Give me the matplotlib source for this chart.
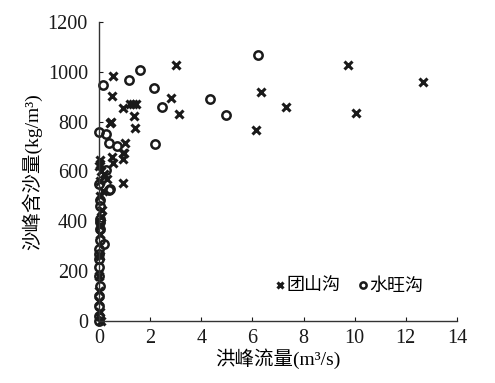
import matplotlib
matplotlib.use('Agg')
import matplotlib.pyplot as plt

plt.rcParams['font.family'] = ['Liberation Serif', 'Noto Sans CJK SC']
plt.rcParams['axes.unicode_minus'] = False

# 团山沟 (crosses)
tsg_x = [0.53, 3.0, 0.52, 0.93, 1.34, 1.45, 2.8, 3.14, 1.37, 1.41, 0.48, 1.0, 0.93,
         0.95, 0.53, 0.5, 6.35, 6.16, 9.74, 7.33, 10.06, 12.67, 0.95, 1.2, 0.43, 0.98,
         0.02, 0.05, 0.0, 0.08, 0.1, 0.08, 0.03, 0.05, 0.02, 0.0, 0.04, 0.06, 0.01,
         0.03, 0.0, 0.02, 0.2, 0.3, 0.15]
tsg_y = [984, 1025, 904, 853, 871, 871, 894, 829, 824, 776, 800, 712, 672,
         648, 634, 659, 920, 766, 1025, 860, 836, 958, 554, 870, 795, 672,
         645, 630, 620, 600, 444, 417, 560, 500, 380, 121, 34, 0, 80,
         260, 180, 350, 590, 570, 520]

# 水旺沟 (circles)
swg_x = [0.14, 1.17, 1.59, 2.15, 2.45, 4.36, 4.95, 6.21, 2.19, 0.43,
         0.0, 0.26, 0.39, 0.69, 0.26, 0.0, 0.39, 0.04, 0.02, 0.03, 0.05, 0.2,
         0.0, 0.0, 0.0, 0.0, 0.02, 0.0, 0.0, 0.0, 0.0, 0.02, 0.04, 0.0]
swg_y = [948, 965, 1005, 933, 857, 889, 825, 1066, 710, 531,
         760, 750, 712, 700, 605, 551, 524, 484, 411, 370, 323, 310,
         289, 249, 215, 181, 141, 101, 60, 20, 0, 460, 395, 270]

xticks = [0, 2, 4, 6, 8, 10, 12, 14]
yticks = [0, 200, 400, 600, 800, 1000, 1200]

fig = plt.figure(figsize=(4.95, 3.83), dpi=100)
ax = fig.add_axes([0.2, 0.162, 0.723, 0.781])

ax.plot(tsg_x, tsg_y, 'x', color='#1a1a1a', ms=5.5, mew=2.2, ls='none',
        clip_on=False, label='团山沟')
ax.plot(swg_x, swg_y, 'o', mfc='none', mec='#1a1a1a', ms=6, mew=1.8, ls='none',
        clip_on=False, label='水旺沟')

ax.set_xlim(0, 14)
ax.set_ylim(0, 1200)
ax.set_xticks(xticks)
ax.set_yticks(yticks)
for s in ['top', 'right']:
    ax.spines[s].set_visible(False)
for s in ['left', 'bottom']:
    ax.spines[s].set_color('#333333')
    ax.spines[s].set_linewidth(1.0)
ax.tick_params(direction='in', length=3, labelsize=14.5, colors='#1a1a1a')
ax.tick_params(axis='y', pad=8)
ax.tick_params(axis='x', pad=6)

ax.set_xlabel('洪峰流量(m³/s)', fontsize=14, labelpad=0)
ax.set_ylabel('沙峰含沙量(kg/m³)', fontsize=14, labelpad=4)

ax.legend(loc='center', bbox_to_anchor=(0.7, 0.115), ncol=2, frameon=False,
          fontsize=13, handlelength=0.5, handletextpad=0.1, columnspacing=1.0,
          markerscale=0.75)

fig.savefig('out.png', dpi=100)
